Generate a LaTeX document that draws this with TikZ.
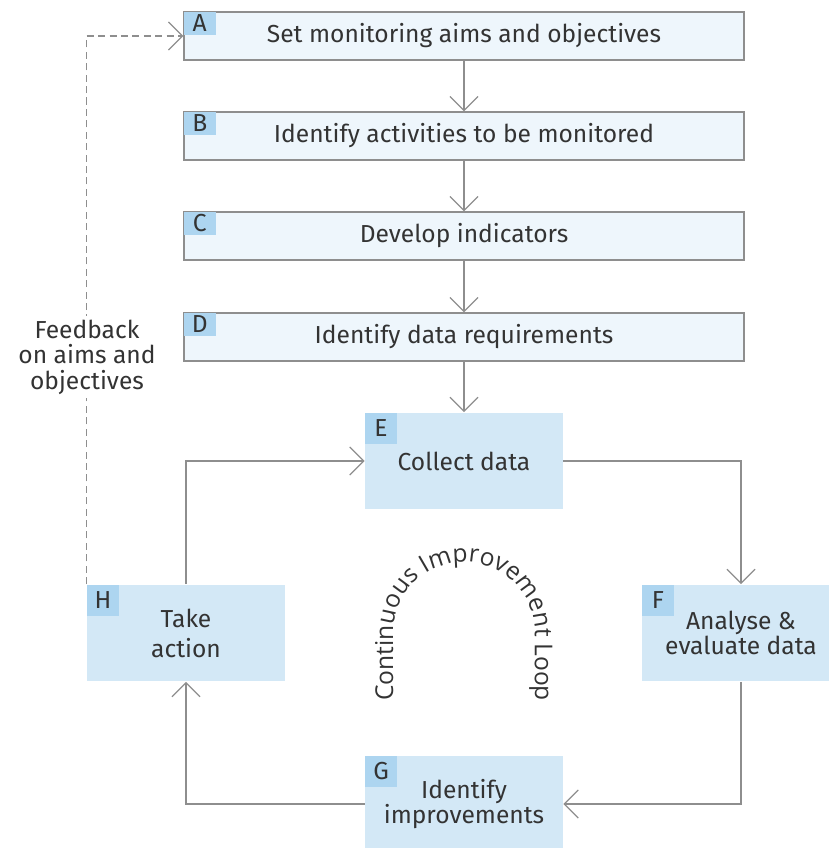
\documentclass[tikz,border=0pt]{standalone}
\usepackage{fontspec}
\setmainfont{Fira Sans}
\newfontfamily\loopfont{Open Sans}
\usetikzlibrary{arrows.meta,positioning,decorations.text}

\definecolor{stepfill}{HTML}{EEF6FC}
\definecolor{loopfill}{HTML}{D3E8F6}
\definecolor{tagfill}{HTML}{ADD5F0}
\definecolor{linegray}{HTML}{8E8E8E}
\definecolor{textgray}{HTML}{333333}

\begin{document}
\begin{tikzpicture}
	[
	x=0.02cm, y=-0.02cm,
	align=center,
	text=textgray,
	font=\fontsize{14}{14.5}\selectfont,
	stepbox/.style={draw=linegray,line width=0.7pt,fill=stepfill,minimum width=11.2cm,minimum height=0.96cm,inner sep=0pt},
	loopbox/.style={draw=none,fill=loopfill,minimum width=3.96cm,minimum height=1.94cm,inner sep=0pt},
	steptag/.style={fill=tagfill,minimum width=0.64cm,minimum height=0.46cm,inner sep=0pt,anchor=north west},
	looptag/.style={fill=tagfill,minimum width=0.64cm,minimum height=0.62cm,inner sep=0pt,anchor=north west},
	note/.style={draw=none,fill=white,inner sep=2pt},
	arrow/.style={
           -{Straight Barb[length=8pt,width=16pt]},
           draw=linegray,
           line width=0.7pt,}
	]
		\useasboundingbox (0,0) rectangle (828,848);

		% steps
		\node[stepbox] (a) at 		(464,  36) {Set monitoring aims and objectives};
		\node[stepbox] (b) at 		(464, 136) {Identify activities to be monitored};
		\node[stepbox] (c) at 		(464, 236) {Develop indicators};
		\node[stepbox] (d) at 		(464, 337) {Identify data requirements};

		% loop
		\node[loopbox] (e) at 		(464, 461) {Collect data};
		\node[loopbox,font=\fontsize{14}{13}\selectfont] (f) at 		(741, 633) {Analyse \&\\evaluate data};
		\node[loopbox] (g) at 		(464, 804) {Identify\\improvements};
		\node[loopbox,font=\fontsize{14}{17}\selectfont] (h) at 		(186, 633) {Take\\action};

		% tags
		\foreach \n/\t in {a/A,b/B,c/C,d/D} \node[steptag] (t\n) at (\n.north west) {\t};
		\foreach \n/\t in {e/E,f/F,g/G,h/H} \node[looptag] (t\n) at (\n.north west) {\t};

		% straight paths
		\foreach \from/\to in {a/b,b/c,c/d,d/e} \draw[arrow] (\from) -- (\to);

		% loop paths
		\draw[arrow] (e) -| (f);
		\draw[arrow] (f) |- (g);
		\draw[arrow] (g) -| (h);
		\draw[arrow] (h) |- (e);

		% feedback
		\draw[arrow,dash pattern=on 4pt off 2.5pt] (h.north west) |- (a.west);
		\node[note] (fb) at 		(87, 357) {Feedback\\on aims and\\objectives};

		% loop title
		\path[decorate,decoration={text along path,text align=center,
			text={|\loopfont\fontsize{14}{14}\selectfont\color{textgray}|Continuous Improvement Loop}}]
			(393,705) -- (393,633) arc[start angle=180,end angle=0,radius=1.42cm] -- (535,705);

	\end{tikzpicture}
\end{document}
